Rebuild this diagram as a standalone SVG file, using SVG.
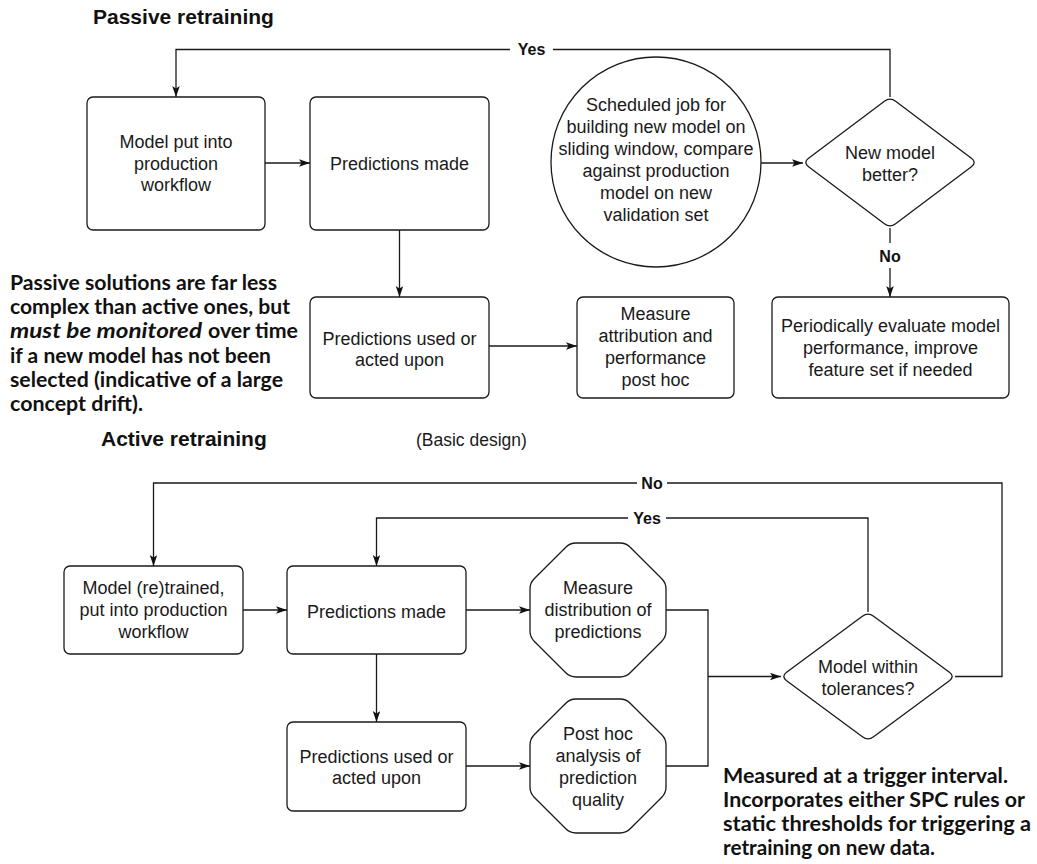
<svg xmlns="http://www.w3.org/2000/svg" width="1037" height="864" viewBox="0 0 1037 864">
  <style>
    .bg { fill: #ffffff; }
    .box { fill: #ffffff; stroke: #1a1a1a; stroke-width: 1.3; }
    .edge { fill: none; stroke: #1a1a1a; stroke-width: 1.3; }
    .lbl { font-family: "Liberation Sans", Arial, sans-serif; font-size: 18px; fill: #1a1a1a; text-anchor: middle; }
    .elbl { font-family: "Liberation Sans", Arial, sans-serif; font-size: 16px; font-weight: bold; fill: #111; text-anchor: middle; }
    .title { font-family: "Liberation Sans", Arial, sans-serif; font-size: 21px; font-weight: bold; fill: #111; }
    .sub { font-family: "Liberation Sans", Arial, sans-serif; font-size: 17.5px; fill: #1a1a1a; }
    .note { font-family: "Lato", "Liberation Sans", sans-serif; font-size: 20px; font-weight: bold; fill: #111; }
    .note-i { font-style: italic; }
    .gap { fill: #ffffff; }
  </style>
  <defs>
    <marker id="arrow" markerWidth="12" markerHeight="8" refX="11" refY="3.75" orient="auto" markerUnits="userSpaceOnUse">
      <path d="M0,0 L11,3.75 L0,7.5 L2.5,3.75 Z" fill="#111"/>
    </marker>
    <path id="octagon" d="M 46 0 L 90 0 Q 96 0 100.2 4.2 L 131.8 35.8 Q 136 40 136 46 L 136 88 Q 136 94 131.8 98.2 L 100.2 129.8 Q 96 134 90 134 L 46 134 Q 40 134 35.8 129.8 L 4.2 98.2 Q 0 94 0 88 L 0 46 Q 0 40 4.2 35.8 L 35.8 4.2 Q 40 0 46 0 Z"/>
  </defs>

  <rect class="bg" x="0" y="0" width="1037" height="864"/>

  <!-- section headings -->
  <text class="title" x="93" y="24">Passive retraining</text>
  <text class="title" x="101" y="446">Active retraining</text>
  <text class="sub" x="416" y="446">(Basic design)</text>

  <!-- connectors -->
  <g id="connectors">
    <!-- passive flow -->
    <path class="edge" d="M 890 97 L 890 49.5 L 176 49.5 L 176 97" marker-end="url(#arrow)"/>
    <path class="edge" d="M 265 163 L 310 163" marker-end="url(#arrow)"/>
    <path class="edge" d="M 399.5 230 L 399.5 297" marker-end="url(#arrow)"/>
    <path class="edge" d="M 489 346 L 577 346" marker-end="url(#arrow)"/>
    <path class="edge" d="M 761 163 L 803 163" marker-end="url(#arrow)"/>
    <path class="edge" d="M 890 228 L 890 297" marker-end="url(#arrow)"/>

    <!-- active flow -->
    <path class="edge" d="M 955 676.5 L 1002 676.5 L 1002 483 L 153.5 483 L 153.5 566" marker-end="url(#arrow)"/>
    <path class="edge" d="M 868 612 L 868 518 L 376.5 518 L 376.5 566" marker-end="url(#arrow)"/>
    <path class="edge" d="M 243 610 L 287 610" marker-end="url(#arrow)"/>
    <path class="edge" d="M 466 610 L 530 610" marker-end="url(#arrow)"/>
    <path class="edge" d="M 376.5 654 L 376.5 722" marker-end="url(#arrow)"/>
    <path class="edge" d="M 466 766 L 530 766" marker-end="url(#arrow)"/>
    <path class="edge" d="M 666 610 L 708 610 L 708 766 L 666 766"/>
    <path class="edge" d="M 708 676.5 L 781 676.5" marker-end="url(#arrow)"/>

    <!-- edge labels -->
    <rect class="gap" x="510" y="42" width="43" height="16"/>
    <text class="elbl" x="531.5" y="54.5">Yes</text>
    <rect class="gap" x="878" y="243" width="24" height="25"/>
    <text class="elbl" x="890" y="262">No</text>
    <rect class="gap" x="637" y="475" width="30" height="16"/>
    <text class="elbl" x="652" y="489">No</text>
    <rect class="gap" x="628" y="510" width="38" height="16"/>
    <text class="elbl" x="647" y="524">Yes</text>
  </g>

  <!-- passive retraining nodes -->
  <g id="model-production">
    <rect class="box" x="87" y="97" width="178" height="133" rx="6"/>
    <text class="lbl" x="176" y="148">Model put into</text>
    <text class="lbl" x="176" y="169.5">production</text>
    <text class="lbl" x="176" y="191">workflow</text>
  </g>
  <g id="predictions-made">
    <rect class="box" x="310" y="97" width="179" height="133" rx="6"/>
    <text class="lbl" x="399.5" y="170">Predictions made</text>
  </g>
  <g id="scheduled-job">
    <circle class="box" cx="656" cy="162" r="105"/>
    <text class="lbl" x="656" y="111">Scheduled job for</text>
    <text class="lbl" x="656" y="133">building new model on</text>
    <text class="lbl" x="656" y="155">sliding window, compare</text>
    <text class="lbl" x="656" y="177">against production</text>
    <text class="lbl" x="656" y="199">model on new</text>
    <text class="lbl" x="656" y="221">validation set</text>
  </g>
  <g id="new-model-better">
    <path class="box" d="M 895.6 101.2 L 971.4 158.3 Q 977 162.5 971.4 166.7 L 895.6 223.8 Q 890 228 884.4 223.8 L 808.6 166.7 Q 803 162.5 808.6 158.3 L 884.4 101.2 Q 890 97 895.6 101.2 Z"/>
    <text class="lbl" x="890" y="159">New model</text>
    <text class="lbl" x="890" y="180.5">better?</text>
  </g>
  <g id="predictions-used">
    <rect class="box" x="310" y="297" width="179" height="101" rx="6"/>
    <text class="lbl" x="399.5" y="344.5">Predictions used or</text>
    <text class="lbl" x="399.5" y="366">acted upon</text>
  </g>
  <g id="measure-attribution">
    <rect class="box" x="577" y="297" width="157" height="101" rx="6"/>
    <text class="lbl" x="655.5" y="320">Measure</text>
    <text class="lbl" x="655.5" y="342">attribution and</text>
    <text class="lbl" x="655.5" y="364">performance</text>
    <text class="lbl" x="655.5" y="386">post hoc</text>
  </g>
  <g id="periodic-evaluation">
    <rect class="box" x="772" y="297" width="237" height="101" rx="6"/>
    <text class="lbl" x="890.5" y="332">Periodically evaluate model</text>
    <text class="lbl" x="890.5" y="354">performance, improve</text>
    <text class="lbl" x="890.5" y="376">feature set if needed</text>
  </g>

  <!-- passive note -->
  <g id="passive-note">
    <text class="note" x="10" y="290" textLength="267" lengthAdjust="spacingAndGlyphs">Passive solutions are far less</text>
    <text class="note" x="10" y="314.3" textLength="280" lengthAdjust="spacingAndGlyphs">complex than active ones, but</text>
    <text class="note note-i" x="10" y="338.3" textLength="192" lengthAdjust="spacingAndGlyphs">must be monitored</text>
    <text class="note" x="208" y="338.3" textLength="90" lengthAdjust="spacingAndGlyphs">over time</text>
    <text class="note" x="10" y="362.7" textLength="261" lengthAdjust="spacingAndGlyphs">if a new model has not been</text>
    <text class="note" x="10" y="386.7" textLength="273" lengthAdjust="spacingAndGlyphs">selected (indicative of a large</text>
    <text class="note" x="10" y="410.5" textLength="133" lengthAdjust="spacingAndGlyphs">concept drift).</text>
  </g>

  <!-- active retraining nodes -->
  <g id="model-retrained">
    <rect class="box" x="64" y="566" width="179" height="88" rx="6"/>
    <text class="lbl" x="153.5" y="594">Model (re)trained,</text>
    <text class="lbl" x="153.5" y="616">put into production</text>
    <text class="lbl" x="153.5" y="637.5">workflow</text>
  </g>
  <g id="active-predictions-made">
    <rect class="box" x="287" y="566" width="179" height="88" rx="6"/>
    <text class="lbl" x="376.5" y="617.5">Predictions made</text>
  </g>
  <g id="measure-distribution">
    <use href="#octagon" class="box" transform="translate(530,543)"/>
    <text class="lbl" x="598" y="594">Measure</text>
    <text class="lbl" x="598" y="616">distribution of</text>
    <text class="lbl" x="598" y="638">predictions</text>
  </g>
  <g id="active-predictions-used">
    <rect class="box" x="287" y="722" width="179" height="89" rx="6"/>
    <text class="lbl" x="376.5" y="762.5">Predictions used or</text>
    <text class="lbl" x="376.5" y="784">acted upon</text>
  </g>
  <g id="post-hoc-analysis">
    <use href="#octagon" class="box" transform="translate(530,699)"/>
    <text class="lbl" x="598" y="739.5">Post hoc</text>
    <text class="lbl" x="598" y="761.5">analysis of</text>
    <text class="lbl" x="598" y="783.5">prediction</text>
    <text class="lbl" x="598" y="805.5">quality</text>
  </g>
  <g id="within-tolerances">
    <path class="box" d="M 873.6 616.2 L 949.4 672.3 Q 955 676.5 949.4 680.7 L 873.6 736.8 Q 868 741 862.4 736.8 L 786.6 680.7 Q 781 676.5 786.6 672.3 L 862.4 616.2 Q 868 612 873.6 616.2 Z"/>
    <text class="lbl" x="868" y="673">Model within</text>
    <text class="lbl" x="868" y="694.5">tolerances?</text>
  </g>

  <!-- active note -->
  <g id="active-note">
    <text class="note" x="723" y="782.7" textLength="285" lengthAdjust="spacingAndGlyphs">Measured at a trigger interval.</text>
    <text class="note" x="723" y="806.7" textLength="302" lengthAdjust="spacingAndGlyphs">Incorporates either SPC rules or</text>
    <text class="note" x="723" y="830.7" textLength="308" lengthAdjust="spacingAndGlyphs">static thresholds for triggering a</text>
    <text class="note" x="723" y="855" textLength="212" lengthAdjust="spacingAndGlyphs">retraining on new data.</text>
  </g>
</svg>
